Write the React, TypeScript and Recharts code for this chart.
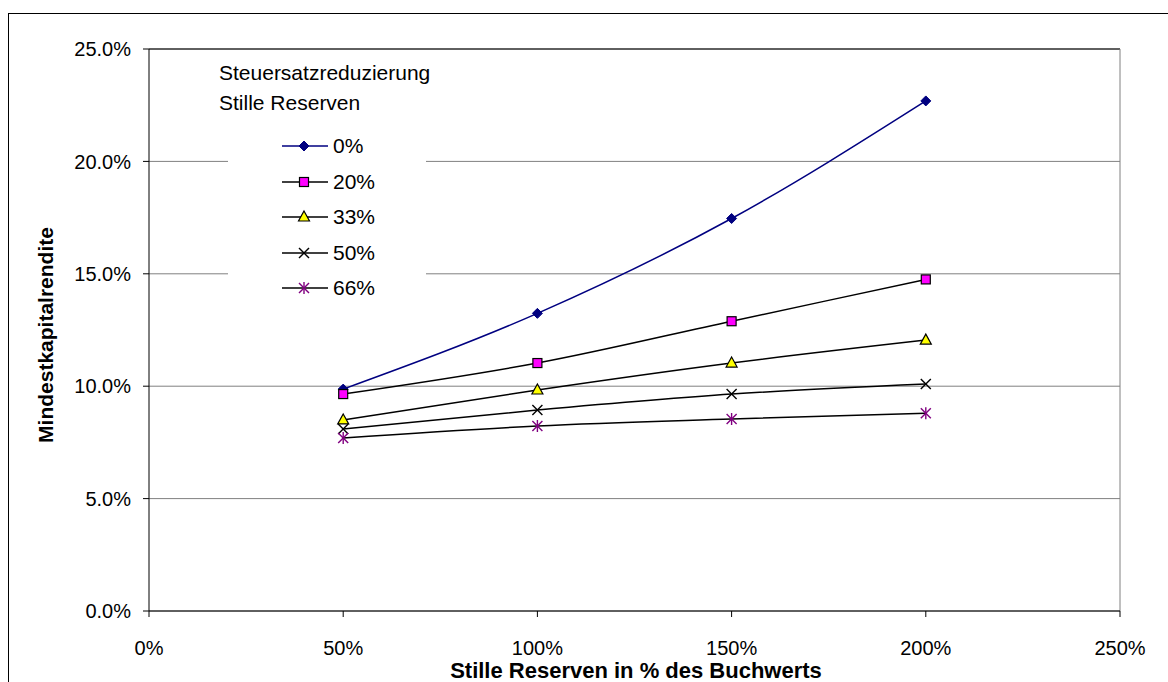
import React from 'react'
import {
  LineChart,
  Line,
  XAxis,
  YAxis,
  CartesianGrid,
  ReferenceLine
} from 'recharts'

const reserves = [50, 100, 150, 200]
const xTicks = [0, 50, 100, 150, 200, 250]
const yTicks = [0, 5, 10, 15, 20, 25]

const rate0 = [9.87, 13.24, 17.46, 22.69]
const rate20 = [9.65, 11.03, 12.89, 14.75]
const rate33 = [8.5, 9.83, 11.03, 12.05]
const rate50 = [8.1, 8.94, 9.65, 10.1]
const rate66 = [7.7, 8.23, 8.54, 8.8]

const seriesNames = ['0%', '20%', '33%', '50%', '66%']

const data = reserves.map((r, i) => ({
  x: r,
  s0: rate0[i],
  s20: rate20[i],
  s33: rate33[i],
  s50: rate50[i],
  s66: rate66[i]
}))

const FONT = '"Liberation Sans", Arial, sans-serif'

type Shape = 'diamond' | 'square' | 'triangle' | 'cross' | 'star'

function Marker({ shape, cx, cy }: { shape: Shape; cx: number; cy: number }) {
  if (shape === 'diamond')
    return <path d={`M${cx},${cy - 5} L${cx + 5},${cy} L${cx},${cy + 5} L${cx - 5},${cy} Z`} fill="#000080" stroke="#000080" />
  if (shape === 'square')
    return <rect x={cx - 4.5} y={cy - 4.5} width={9} height={9} fill="#ff00ff" stroke="#000" strokeWidth={1.2} />
  if (shape === 'triangle')
    return <path d={`M${cx},${cy - 6} L${cx + 5.5},${cy + 4} L${cx - 5.5},${cy + 4} Z`} fill="#ffff00" stroke="#000" strokeWidth={1.2} />
  if (shape === 'cross')
    return (
      <g stroke="#000" strokeWidth={1.4}>
        <line x1={cx - 5} y1={cy - 5} x2={cx + 5} y2={cy + 5} />
        <line x1={cx - 5} y1={cy + 5} x2={cx + 5} y2={cy - 5} />
      </g>
    )
  return (
    <g stroke="#800080" strokeWidth={1.4}>
      <line x1={cx - 5} y1={cy - 5} x2={cx + 5} y2={cy + 5} />
      <line x1={cx - 5} y1={cy + 5} x2={cx + 5} y2={cy - 5} />
      <line x1={cx} y1={cy - 6} x2={cx} y2={cy + 6} />
    </g>
  )
}

const series: Array<{ key: string; name: string; color: string; shape: Shape }> = [
  { key: 's0', name: seriesNames[0], color: '#000080', shape: 'diamond' },
  { key: 's20', name: seriesNames[1], color: '#000', shape: 'square' },
  { key: 's33', name: seriesNames[2], color: '#000', shape: 'triangle' },
  { key: 's50', name: seriesNames[3], color: '#000', shape: 'cross' },
  { key: 's66', name: seriesNames[4], color: '#000', shape: 'star' }
]

function LegendBox() {
  return (
    <>
      <div style={{ position: 'absolute', left: 228, top: 128, width: 198, height: 175, background: '#fff' }} />
      <div style={{ position: 'absolute', left: 219, top: 58, fontFamily: FONT, fontSize: 21, lineHeight: '30px', whiteSpace: 'nowrap' }}>
        Steuersatzreduzierung
        <br />
        Stille Reserven
      </div>
      {series.map((s, i) => (
        <div
          key={s.key}
          style={{ position: 'absolute', left: 282, top: 146 + i * 35.5 - 12, height: 24, display: 'flex', alignItems: 'center', fontFamily: FONT }}
        >
          <svg width={48} height={16} style={{ overflow: 'visible' }}>
            <line x1={0} y1={8} x2={46} y2={8} stroke={s.color} strokeWidth={1.5} />
            <Marker shape={s.shape} cx={22} cy={8} />
          </svg>
          <span style={{ fontSize: 21, marginLeft: 3 }}>{s.name}</span>
        </div>
      ))}
    </>
  )
}

export default function App() {
  return (
    <div style={{ position: 'fixed', left: 0, top: 0, width: 1168, height: 682, overflow: 'hidden', background: '#fff' }}>
      <div style={{ position: 'absolute', left: 8, top: 13, width: 1180, height: 700, border: '1px solid #000' }} />
      <div style={{ position: 'absolute', left: 0, top: 0 }}>
        <LineChart width={1168} height={682} data={data} margin={{ top: 49, right: 48, left: 29, bottom: 21 }}>
          <CartesianGrid horizontal vertical={false} stroke="#808080" />
          <XAxis
            dataKey="x"
            type="number"
            domain={[0, 250]}
            ticks={xTicks}
            tickFormatter={(v) => `${v}%`}
            height={50}
            tickMargin={24}
            tickSize={6}
            stroke="#000"
            tick={{ fill: '#000', fontSize: 20, fontFamily: FONT }}
          />
          <YAxis
            type="number"
            domain={[0, 25]}
            ticks={yTicks}
            tickFormatter={(v) => `${Number(v).toFixed(1)}%`}
            width={120}
            tickMargin={12}
            tickSize={6}
            stroke="#000"
            tick={{ fill: '#000', fontSize: 20, fontFamily: FONT }}
          />
          <ReferenceLine y={25} stroke="#000" />
          <ReferenceLine x={250} stroke="#808080" />
          {series.map((s) => (
            <Line
              key={s.key}
              type="monotone"
              dataKey={s.key}
              name={s.name}
              stroke={s.color}
              strokeWidth={1.5}
              isAnimationActive={false}
              dot={(p: any) => <Marker key={`${s.key}-${p.index}`} shape={s.shape} cx={p.cx} cy={p.cy} />}
              activeDot={false}
            />
          ))}
        </LineChart>
      </div>
      <LegendBox />
      <div
        style={{
          position: 'absolute',
          left: 46,
          top: 335,
          transform: 'translate(-50%, -50%) rotate(-90deg)',
          fontFamily: FONT,
          fontWeight: 'bold',
          fontSize: 21,
          whiteSpace: 'nowrap'
        }}
      >
        Mindestkapitalrendite
      </div>
      <div
        style={{
          position: 'absolute',
          left: 636,
          top: 671,
          transform: 'translate(-50%, -50%)',
          fontFamily: FONT,
          fontWeight: 'bold',
          fontSize: 22,
          whiteSpace: 'nowrap'
        }}
      >
        Stille Reserven in % des Buchwerts
      </div>
    </div>
  )
}
